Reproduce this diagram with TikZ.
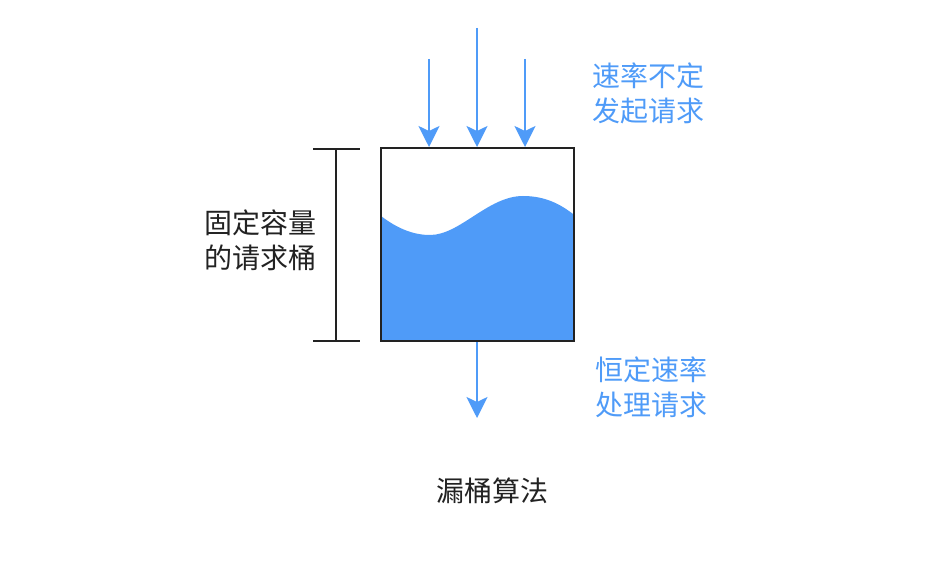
\documentclass[tikz,border=0pt]{standalone}
\usepackage{fontspec}
\setmainfont{Noto Sans CJK SC}
\usetikzlibrary{arrows.meta}
\definecolor{wblue}{HTML}{4F9BF8}
\definecolor{ink}{HTML}{222222}
\tikzset{
  flow/.style={draw=wblue, line width=2pt, -{Stealth[length=21pt,width=21pt,inset=5pt]}},
  bar/.style={draw=ink, line width=2pt},
  lbl/.style={align=center, inner sep=0pt, font=\fontsize{28}{35}\selectfont},
}
\begin{document}
\begin{tikzpicture}[x=1pt,y=-1pt]
\useasboundingbox (0,0) rectangle (942,564);
% water
\fill[wblue] (381,216) .. controls (398,229) and (414,235) .. (430,235)
  .. controls (460,235) and (488,196) .. (523,196)
  .. controls (545,196) and (560,204) .. (573,214) -- (573,341) -- (381,341) -- cycle;
% bucket
\node[draw=ink, line width=2pt, minimum width=193pt, minimum height=193pt, inner sep=0pt] (bucket) at (477,244.5) {};
% input arrows
\coordinate (s1) at (429,59);
\coordinate (s2) at (477,28);
\coordinate (s3) at (525,59);
\coordinate (e1) at (429,147);
\coordinate (e2) at (477,147);
\coordinate (e3) at (525,147);
\draw[flow] (s1) -- (e1);
\draw[flow] (s2) -- (e2);
\draw[flow] (s3) -- (e3);
% output arrow
\coordinate (o1) at (477,342);
\coordinate (o2) at (477,418);
\draw[flow] (o1) -- (o2);
% bracket
\coordinate (bt) at (336,149);
\coordinate (bb) at (336,341);
\coordinate (btl) at (313,149);
\coordinate (btr) at (360,149);
\coordinate (bbl) at (313,341);
\coordinate (bbr) at (360,341);
\draw[bar] (bt) -- (bb);
\draw[bar] (btl) -- (btr);
\draw[bar] (bbl) -- (bbr);
% labels
\node[lbl, text=ink] (cap) at (260,240) {固定容量\\的请求桶};
\node[lbl, text=wblue] (inl) at (648,93) {速率不定\\发起请求};
\node[lbl, text=wblue] (outl) at (651,387) {恒定速率\\处理请求};
\node[lbl, text=ink] (title) at (492,491) {漏桶算法};
\end{tikzpicture}
\end{document}
